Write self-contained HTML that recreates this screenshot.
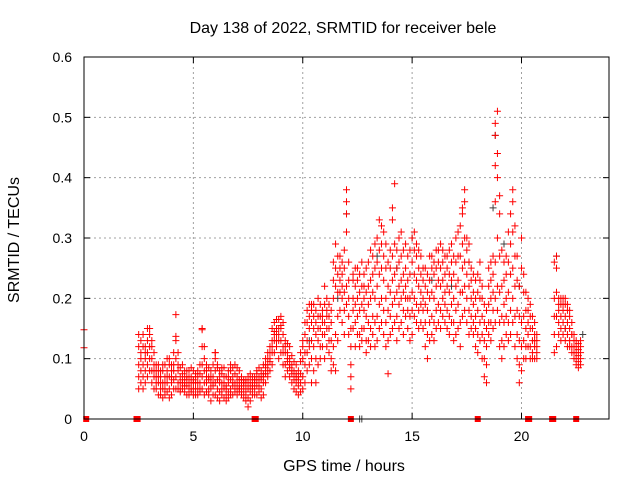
<!DOCTYPE html>
<html><head><meta charset="utf-8"><style>
html,body{margin:0;padding:0;background:#fff}
svg{display:block;font-family:"Liberation Sans",sans-serif}
</style></head><body>
<svg id="chart" width="640" height="480" viewBox="0 0 640 480" xmlns="http://www.w3.org/2000/svg">
<rect x="0" y="0" width="640" height="480" fill="#fff"/>
<text x="343" y="33" text-anchor="middle" font-size="16">Day 138 of 2022, SRMTID for receiver bele</text>
<text transform="translate(19,240) rotate(-90)" text-anchor="middle" font-size="16">SRMTID / TECUs</text>
<text x="344" y="471" text-anchor="middle" font-size="16">GPS time / hours</text>
<g id="grid"></g>
<g id="ticks"></g>
<g id="gray"></g>
<g id="marks"></g>
<rect x="84" y="57" width="525" height="362" fill="none" stroke="#000" stroke-width="1"/>
</svg>
<script>
const xTicks = [0,5,10,15,20];
const yTicks = [0,0.1,0.2,0.3,0.4,0.5,0.6];
const yTickLabels = ["0","0.1","0.2","0.3","0.4","0.5","0.6"];
const hours = [0.0,2.5,2.6,2.7,2.8,2.9,3.0,3.1,3.2,3.3,3.4,3.5,3.6,3.7,3.8,3.9,4.0,4.1,4.2,4.3,4.4,4.5,4.6,4.7,4.8,4.9,5.0,5.1,5.2,5.3,5.4,5.5,5.6,5.7,5.8,5.9,6.0,6.1,6.2,6.3,6.4,6.5,6.6,6.7,6.8,6.9,7.0,7.1,7.2,7.3,7.4,7.5,7.6,7.7,7.8,7.9,8.0,8.1,8.2,8.3,8.4,8.5,8.6,8.7,8.8,8.9,9.0,9.1,9.2,9.3,9.4,9.5,9.6,9.7,9.8,9.9,10.0,10.1,10.2,10.3,10.4,10.5,10.6,10.7,10.8,10.9,11.0,11.1,11.2,11.3,11.4,11.5,11.6,11.7,11.8,11.9,12.0,12.1,12.2,12.3,12.4,12.5,12.6,12.7,12.8,12.9,13.0,13.1,13.2,13.3,13.4,13.5,13.6,13.7,13.8,13.9,14.0,14.1,14.2,14.3,14.4,14.5,14.6,14.7,14.8,14.9,15.0,15.1,15.2,15.3,15.4,15.5,15.6,15.7,15.8,15.9,16.0,16.1,16.2,16.3,16.4,16.5,16.6,16.7,16.8,16.9,17.0,17.1,17.2,17.3,17.4,17.5,17.6,17.7,17.8,17.9,18.0,18.1,18.2,18.3,18.4,18.5,18.6,18.7,18.8,18.9,19.0,19.1,19.2,19.3,19.4,19.5,19.6,19.7,19.8,19.9,20.0,20.1,20.2,20.3,20.4,20.5,20.6,20.7,21.5,21.6,21.7,21.8,21.9,22.0,22.1,22.2,22.3,22.4,22.5,22.6,22.7];
const tecValues = [
[.148,.118],
[.05,.07,.09,.12,.14],[.06,.08,.11,.13,.10],[.05,.07,.09,.12,.14],[.06,.08,.10,.12,.11],[.07,.09,.11,.13,.15],[.08,.10,.12,.14,.15],[.06,.08,.10,.12,.13],[.05,.07,.09,.11,.08],[.05,.06,.08,.09,.07],[.04,.06,.07,.08,.09],[.04,.05,.07,.08,.06],[.035,.05,.06,.08,.09],[.04,.06,.07,.09,.05],[.045,.06,.08,.10,.07],[.035,.05,.07,.10,.09],[.04,.06,.07,.09,.08],[.05,.065,.08,.11,.09],[.05,.07,.10,.13,.137,.173],[.05,.06,.08,.11,.09],[.045,.06,.07,.085,.05],[.05,.06,.075,.09,.065],[.045,.06,.07,.08,.055],[.04,.055,.065,.08,.07],[.04,.05,.06,.08,.07],[.045,.06,.07,.085,.05],[.04,.05,.065,.08,.06],[.04,.05,.06,.075,.07],[.04,.05,.06,.08,.07],[.045,.06,.075,.09,.05],[.05,.07,.09,.12,.15,.148],[.04,.06,.08,.10,.12],[.045,.06,.07,.09,.08],[.04,.05,.065,.085,.07],[.03,.05,.06,.08,.07],[.04,.055,.07,.09,.06],[.04,.06,.08,.10,.11,.11],[.035,.05,.065,.085,.09],[.03,.045,.06,.08,.07],[.04,.05,.06,.075,.085],[.035,.05,.06,.07,.085],[.03,.04,.055,.07,.05],[.035,.045,.06,.07,.08],[.04,.05,.065,.08,.09],[.04,.055,.07,.085,.06],[.045,.06,.075,.09,.05],[.04,.05,.07,.085,.06],[.045,.055,.065,.08,.05],[.04,.05,.06,.07,.065],[.035,.045,.055,.065,.06],[.03,.04,.05,.065,.06],[.02,.035,.05,.06,.07],[.03,.045,.055,.075,.065],[.04,.05,.06,.07,.055],[.04,.05,.06,.07,.065],[.04,.055,.065,.08,.075],[.045,.055,.07,.085,.06],[.035,.05,.065,.08,.07],[.04,.06,.07,.09,.075],[.06,.075,.09,.1,.085],[.07,.09,.1,.11,.08],[.08,.095,.11,.12,.10],[.09,.11,.13,.15,.12],[.11,.13,.145,.16,.14],[.12,.14,.15,.165,.13],[.1,.13,.15,.165,.14],[.11,.13,.15,.17,.155],[.09,.11,.12,.14,.16],[.07,.09,.11,.12,.13],[.08,.095,.11,.125,.10],[.07,.085,.1,.12,.09],[.06,.075,.09,.105,.08],[.05,.07,.08,.095,.065],[.045,.06,.075,.09,.07],[.04,.055,.065,.08,.07],[.045,.06,.075,.095,.11],
[.05,.07,.1,.12,.13],[.06,.09,.11,.14,.16],[.08,.11,.13,.16,.18],[.09,.12,.15,.17,.19],[.06,.1,.13,.16,.19,.18],[.08,.12,.15,.17,.19],[.06,.1,.14,.16,.18],[.09,.13,.15,.17,.2],[.1,.12,.15,.17,.19],[.12,.14,.16,.18,.17],[.1,.14,.16,.19,.22],[.12,.15,.17,.18,.2],[.11,.13,.15,.17,.19],[.08,.1,.13,.16,.18],[.09,.12,.2,.23,.26],[.08,.14,.22,.25,.29],[.13,.17,.21,.24,.27],[.18,.21,.23,.25,.27],[.16,.2,.22,.24,.26],[.14,.18,.21,.25,.28],[.19,.22,.31,.34,.36,.38],[.14,.17,.2,.23,.26],[.05,.07,.09,.12,.15],[.15,.18,.2,.23,.24],[.12,.16,.19,.22,.25],[.14,.17,.2,.23,.25],[.12,.14,.18,.21,.24],[.13,.15,.19,.22,.26],[.15,.18,.2,.24,.22],[.11,.13,.17,.21,.25],[.13,.16,.19,.22,.26],[.12,.15,.2,.23,.28],[.14,.17,.21,.24,.27],[.12,.16,.2,.25,.29],[.13,.17,.22,.26,.3],[.15,.19,.24,.28,.33],[.16,.2,.25,.29,.32],[.14,.18,.23,.27,.31],[.12,.16,.2,.25,.29],[.075,.13,.18,.22,.26],
[.14,.17,.21,.25,.28],[.15,.19,.23,.27,.33,.35],[.16,.2,.24,.29,.39],[.13,.17,.21,.25,.28],[.15,.19,.22,.26,.3],[.16,.2,.23,.27,.31],[.14,.18,.21,.24,.28],[.17,.2,.22,.25,.29],[.15,.18,.2,.23,.27],[.13,.17,.2,.24,.28],[.14,.18,.21,.26,.3],[.17,.2,.24,.28,.31],[.16,.19,.23,.27,.29],[.15,.18,.22,.25,.28],[.16,.19,.21,.24,.27],[.15,.18,.2,.23,.25],[.12,.16,.19,.22,.25],[.1,.14,.18,.21,.24],[.13,.16,.2,.23,.27],[.14,.17,.21,.25,.27],[.13,.16,.2,.24,.26],[.15,.18,.22,.25,.28],[.16,.19,.23,.26,.28],[.15,.18,.22,.25,.29],[.17,.2,.23,.26,.28],[.16,.19,.21,.24,.27],[.15,.18,.22,.25,.27],[.14,.17,.21,.24,.28],[.16,.19,.23,.26,.29],[.13,.16,.2,.24,.27],[.14,.18,.22,.26,.3],[.15,.19,.23,.27,.31],[.12,.16,.21,.27,.32],[.17,.21,.25,.29,.34,.35],[.18,.22,.26,.3,.36,.38],[.16,.2,.24,.28,.3],[.14,.18,.22,.26,.29],[.15,.17,.2,.23,.25],[.14,.16,.19,.21,.24],[.12,.15,.17,.2,.23],
[.11,.14,.18,.21,.24],[.13,.16,.2,.23,.26],[.1,.14,.17,.2,.22],[.07,.1,.13,.16,.19],[.06,.09,.12,.15,.18],[.14,.16,.19,.22,.25],[.13,.16,.2,.23,.26],[.15,.18,.21,.24,.27],[.16,.2,.26,.36,.42,.47,.49],[.18,.22,.3,.4,.44,.51],[.12,.16,.21,.27,.34,.37],[.1,.13,.17,.22,.28],[.12,.16,.19,.23,.26],[.14,.17,.2,.24,.27],[.13,.16,.21,.26,.31],[.14,.18,.24,.29,.34],[.16,.2,.25,.31,.36,.38],[.12,.17,.22,.27,.32],[.1,.14,.18,.23,.27],[.06,.09,.13,.17,.22],[.08,.12,.16,.25,.3],[.1,.13,.17,.21,.24],[.1,.12,.15,.18,.21],[.12,.14,.16,.18,.2],[.1,.12,.15,.17,.19],[.1,.11,.13,.15,.17],[.1,.12,.13,.14,.16],[.1,.11,.12,.13,.14],
[.11,.14,.17,.2,.26],[.12,.17,.21,.25,.27],[.14,.16,.18,.2,.19],[.13,.15,.17,.19,.2],[.14,.16,.18,.19,.2],[.13,.15,.17,.19,.2],[.12,.14,.16,.18,.19],[.12,.13,.15,.17,.18],[.11,.12,.14,.16,.14],[.1,.11,.12,.13,.14],[.09,.1,.11,.12,.13],[.085,.095,.105,.115,.125],[.09,.1,.11,.12,.13]
];
const grayHours = [10.3,11.6,12.0,12.6,12.7,13.4,14.3,15.0,15.9,16.8,17.6,18.7,18.8,19.2,19.9,21.6,22.0,22.8];
const grayValues = [.13,.2,.34,.0,.0,.27,.25,.3,.23,.22,.26,.35,.47,.29,.22,.27,.15,.14];
const zeroHours = [0.1,2.4,2.45,7.8,7.85,12.2,18.0,20.3,20.35,21.4,21.45,22.5];

const X0=84,X1=609,Y0=419,Y1=57,XMAX=24,YMAX=0.6;
function xs(t){return X0+(X1-X0)*t/XMAX;}
function ys(v){return Y0-(Y0-Y1)*v/YMAX;}
const NS="http://www.w3.org/2000/svg";
function el(tag,attrs,parent){const e=document.createElementNS(NS,tag);for(const k in attrs)e.setAttribute(k,attrs[k]);parent.appendChild(e);return e;}
const grid=document.getElementById('grid'),ticks=document.getElementById('ticks');
xTicks.forEach((t,i)=>{
  const x=xs(t);
  if(t>0){const g=el('line',{x1:x,y1:Y0,x2:x,y2:Y1,stroke:'#a0a0a0','stroke-dasharray':'2,3'},grid);
  
  }
  el('line',{x1:x,y1:Y0,x2:x,y2:Y0-6,stroke:'#000'},ticks);
  el('line',{x1:x,y1:Y1,x2:x,y2:Y1+6,stroke:'#000'},ticks);
  const lb=el('text',{x:x,y:Y0+22,'text-anchor':'middle','font-size':'14'},ticks);
  lb.textContent=String(t);
  
  
});
yTicks.forEach((v,i)=>{
  const y=ys(v);
  if(v>0){const g=el('line',{x1:X0,y1:y,x2:X1,y2:y,stroke:'#a0a0a0','stroke-dasharray':'2,3'},grid);
  
  }
  el('line',{x1:X0,y1:y,x2:X0+6,y2:y,stroke:'#000'},ticks);
  el('line',{x1:X1,y1:y,x2:X1-6,y2:y,stroke:'#000'},ticks);
  const lb=el('text',{x:X0-12,y:y+5,'text-anchor':'end','font-size':'14'},ticks);
  lb.textContent=yTickLabels[i];
  
  
});
function plus(parent,t,v,color){
  const x=xs(t),y=ys(v);
  const p=el('path',{d:`M${x-3.5},${y}H${x+3.5}M${x},${y-3.5}V${y+3.5}`,stroke:color,'stroke-width':'1',fill:'none'},parent);
  
  
}
const gray=document.getElementById('gray'),marks=document.getElementById('marks');
grayHours.forEach((t,i)=>plus(gray,t,grayValues[i],'#404040'));
hours.forEach((t,i)=>{(tecValues[i]||[]).forEach(v=>plus(marks,t,v,'#ff0000'));});
zeroHours.forEach(t=>{
  const r=el('rect',{x:xs(t)-3,y:Y0-3,width:6,height:6,fill:'#ff0000'},marks);
  
  
});
</script>
</body></html>
